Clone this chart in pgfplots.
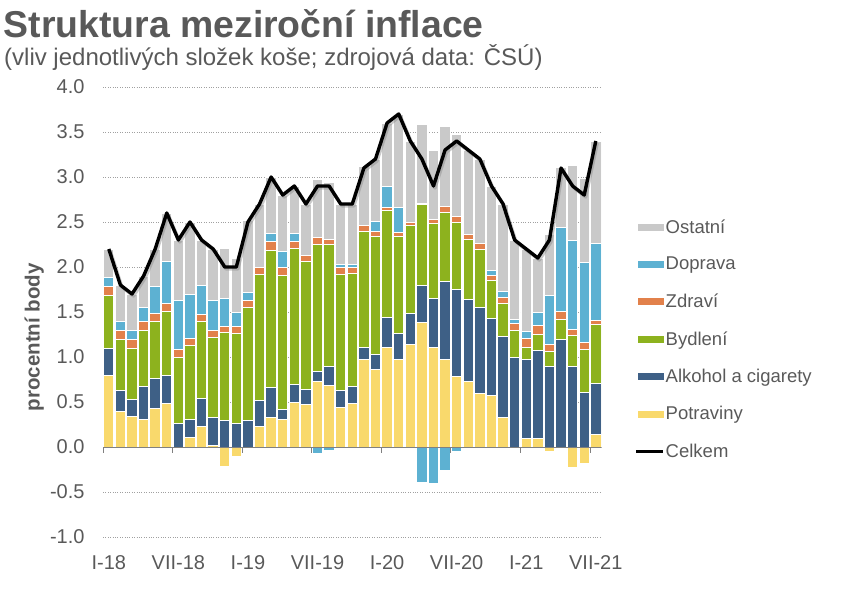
\documentclass[border=0pt]{standalone}
\usepackage{pgfplots}
\pgfplotsset{compat=1.18}
\usepackage{pgfplotstable}
\usepackage{fontspec}
\setmainfont{Liberation Sans}
\definecolor{ost}{HTML}{C9C9C9}
\definecolor{dop}{HTML}{5DB1D2}
\definecolor{zdr}{HTML}{E2814B}
\definecolor{byd}{HTML}{8DB21E}
\definecolor{alk}{HTML}{3E6086}
\definecolor{pot}{HTML}{F9D96C}
\definecolor{txt}{HTML}{595959}
\definecolor{gridc}{HTML}{A0A0A0}

\pgfplotstableread{
x pot alk byd zdr dop ost potn dopn cel
0 0.80 0.30 0.58 0.10 0.10 0.32 0 0 2.2
1 0.40 0.23 0.57 0.09 0.11 0.40 0 0 1.8
2 0.34 0.19 0.57 0.09 0.11 0.40 0 0 1.7
3 0.31 0.36 0.63 0.09 0.16 0.35 0 0 1.9
4 0.43 0.33 0.64 0.08 0.30 0.42 0 0 2.2
5 0.48 0.32 0.71 0.09 0.46 0.54 0 0 2.6
6 0.00 0.26 0.73 0.09 0.55 0.67 0 0 2.3
7 0.11 0.20 0.82 0.08 0.49 0.80 0 0 2.5
8 0.23 0.31 0.85 0.08 0.32 0.51 0 0 2.3
9 0.02 0.31 0.89 0.07 0.34 0.57 0 0 2.2
10 0 0.29 0.98 0.07 0.31 0.56 -0.22 0 2.0
11 0 0.26 1.00 0.08 0.16 0.60 -0.11 0 2.0
12 0 0.30 1.25 0.08 0.09 0.80 -0.02 0 2.5
13 0.23 0.29 1.40 0.07 0 0.71 0 0 2.7
14 0.33 0.33 1.52 0.10 0.09 0.63 0 0 3.0
15 0.31 0.11 1.49 0.09 0.17 0.63 0 0 2.8
16 0.49 0.21 1.51 0.07 0.09 0.53 0 0 2.9
17 0.47 0.17 1.42 0.07 0 0.57 0 0 2.7
18 0.73 0.11 1.41 0.08 0 0.64 0 -0.07 2.9
19 0.68 0.22 1.35 0.06 0 0.63 0 -0.04 2.9
20 0.44 0.19 1.29 0.07 0.04 0.67 0 0 2.7
21 0.48 0.19 1.26 0.07 0.03 0.67 0 0 2.7
22 0.97 0.14 1.29 0.06 0 0.66 0 -0.02 3.1
23 0.86 0.17 1.31 0.05 0.12 0.69 0 0 3.2
24 1.11 0.33 1.19 0.03 0.23 0.71 0 0 3.6
25 0.97 0.29 1.08 0.04 0.28 1.04 0 0 3.7
26 1.14 0.34 0.98 0.03 0 0.91 0 0 3.4
27 1.38 0.41 0.90 0.02 0 0.87 0 -0.39 3.2
28 1.11 0.54 0.83 0.05 0 0.76 0 -0.40 2.9
29 0.97 0.87 0.77 0.06 0 0.89 0 -0.26 3.3
30 0.78 0.97 0.75 0.06 0 0.91 0 -0.05 3.4
31 0.73 0.91 0.67 0.05 0 0.94 0 0 3.3
32 0.60 0.95 0.64 0.07 0 0.94 0 0 3.2
33 0.57 0.86 0.42 0.06 0.05 0.94 0 0 2.9
34 0.33 0.90 0.37 0.06 0.07 0.97 0 0 2.7
35 0 0.99 0.30 0.08 0.05 0.88 0 0 2.3
36 0.10 0.87 0.14 0.10 0.07 0.92 0 0 2.2
37 0.10 0.97 0.18 0.10 0.14 0.61 0 0 2.1
38 0 0.90 0.16 0.08 0.54 0.68 -0.05 0 2.3
39 0 1.20 0.22 0.09 0.93 0.67 -0.01 0 3.1
40 0 0.89 0.35 0.07 0.98 0.84 -0.23 0 2.9
41 0 0.61 0.47 0.08 0.89 0.93 -0.18 0 2.8
42 0.14 0.57 0.65 0.05 0.85 1.13 0 0 3.4
}\data

\pgfplotsset{
  geom/.style={
    at={(103pt,53pt)}, anchor=south west, scale only axis,
    width=498.6pt, height=450pt,
    xmin=-0.5, xmax=42.5, ymin=-1, ymax=4,
    ytick={-1,-0.5,...,4},
    axis line style={draw=none}, major tick length=0pt,
  },
  common/.style={geom, ybar stacked, bar width=10.4pt},
  barst/.style={draw=white, line width=1pt, fill=#1},
}

\begin{document}
\begin{tikzpicture}
\path[use as bounding box] (0,0) rectangle (848pt,590pt);
\node[anchor=base west, inner sep=0pt, text=txt, font=\bfseries\fontsize{37.4}{40}\selectfont] at (3.5pt,552.5pt) {Struktura meziroční inflace};
\node[anchor=base west, inner sep=0pt, text=txt, font=\fontsize{24}{28}\selectfont] at (4pt,524pt) {(vliv jednotlivých složek koše; zdrojová data: ČSÚ)};

\begin{axis}[common,
  ymajorgrids, grid style={dotted, line width=0.8pt, color=gridc},
  xtick=\empty, yticklabels={}]
\addplot[barst=pot] table[x=x,y=potn]{\data};
\addplot[barst=dop] table[x=x,y=dopn]{\data};
\end{axis}

\begin{axis}[common,
  yticklabels={-1.0,-0.5,0.0,0.5,1.0,1.5,2.0,2.5,3.0,3.5,4.0},
  xtick={0,6,...,42},
  xticklabels={I-18,VII-18,I-19,VII-19,I-20,VII-20,I-21,VII-21},
  tick label style={font=\fontsize{20}{24}\selectfont, text=txt},
  yticklabel style={xshift=-15pt},
  xticklabel style={yshift=-15pt},
  ylabel={procentní body},
  ylabel style={font=\bfseries\fontsize{20.5}{24}\selectfont, text=txt, at={(axis description cs:-0.138,0.444)}, anchor=center},
  legend style={draw=none, fill=none, font=\fontsize{18.5}{22}\selectfont, text=txt,
    anchor=north west, at={(axis description cs:1.060,0.715)}, row sep=18.5pt,
    nodes={inner xsep=1pt}},
  legend cell align=left,
]
\addlegendimage{legend image code/.code={\fill[ost] (0pt,-3pt) rectangle (25pt,3pt);}}
\addlegendentry{Ostatní}
\addlegendimage{legend image code/.code={\fill[dop] (0pt,-3pt) rectangle (25pt,3pt);}}
\addlegendentry{Doprava}
\addlegendimage{legend image code/.code={\fill[zdr] (0pt,-3pt) rectangle (25pt,3pt);}}
\addlegendentry{Zdraví}
\addlegendimage{legend image code/.code={\fill[byd] (0pt,-3pt) rectangle (25pt,3pt);}}
\addlegendentry{Bydlení}
\addlegendimage{legend image code/.code={\fill[alk] (0pt,-3pt) rectangle (25pt,3pt);}}
\addlegendentry{Alkohol a cigarety}
\addlegendimage{legend image code/.code={\fill[pot] (0pt,-3pt) rectangle (25pt,3pt);}}
\addlegendentry{Potraviny}
\addlegendimage{legend image code/.code={\draw[black, line width=3pt] (-2pt,0pt) -- (25pt,0pt);}}
\addlegendentry{Celkem}

\addplot[barst=pot, forget plot] table[x=x,y=pot]{\data};
\addplot[barst=alk, forget plot] table[x=x,y=alk]{\data};
\addplot[barst=byd, forget plot] table[x=x,y=byd]{\data};
\addplot[barst=zdr, forget plot] table[x=x,y=zdr]{\data};
\addplot[barst=dop, forget plot] table[x=x,y=dop]{\data};
\addplot[barst=ost, forget plot] table[x=x,y=ost]{\data};
\end{axis}

\begin{axis}[geom, xtick=\empty, yticklabels={}]
\draw[color=gray, line width=1pt] (axis cs:-0.5,0) -- (axis cs:42.5,0);
\pgfplotsinvokeforeach{-0.5,5.5,11.5,17.5,23.5,29.5,35.5,41.5}{
  \draw[color=gray, line width=1pt] (axis cs:#1,0) -- ++(0pt,-6pt);
}
\addplot[sharp plot, color=black!45, opacity=0.45, line width=3.4pt, line join=round, no marks, xshift=1.5pt, yshift=-2pt] table[x=x,y=cel]{\data};
\addplot[sharp plot, black, line width=3.4pt, line join=round, no marks] table[x=x,y=cel]{\data};
\end{axis}
\end{tikzpicture}
\end{document}
